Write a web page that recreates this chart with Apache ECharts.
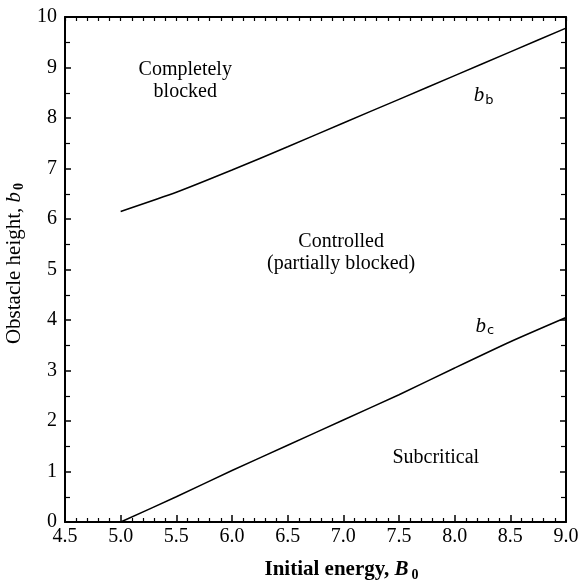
<!DOCTYPE html>
<html><head><meta charset="utf-8">
<script src="https://cdn.jsdelivr.net/npm/echarts@6/dist/echarts.min.js"></script>
<style>html,body{margin:0;padding:0;background:#fff}#c{width:586px;height:582px}</style>
</head><body><div id="c"></div>
<script>
var xB = [5.0, 5.5, 6.0, 6.5, 7.0, 7.5, 8.0, 8.5, 9.0];
var bbValues = [6.15, 6.53, 6.97, 7.43, 7.90, 8.37, 8.84, 9.31, 9.78];
var bcValues = [0.0, 0.50, 1.02, 1.52, 2.02, 2.52, 3.05, 3.57, 4.05];
var annoText = ['{n|Completely}\n{n|blocked}', '{n|Controlled}\n{n|(partially blocked)}', '{i|b}{s|b}', '{i|b}{s|c}', '{n|Subcritical}'];
var annoX = [5.58, 6.98, 8.26, 8.27, 7.83];
var annoY = [8.74, 5.34, 8.44, 3.88, 1.27];

var F = 'Liberation Serif, Times New Roman, serif';
var chart = echarts.init(document.getElementById('c'));
function pairs(xs, ys){ return xs.map(function(x,i){return [x, ys[i]];}); }
var axisBase = {
  axisLine:{show:true, onZero:false, lineStyle:{color:'#000', width:2}},
  splitLine:{show:false}
};
var annoRich = {
  n:{fontFamily:F, fontSize:20, lineHeight:22, color:'#000', opacity:1},
  i:{fontFamily:F, fontSize:21, fontStyle:'italic', color:'#000', opacity:1},
  s:{fontFamily:'DejaVu Sans, sans-serif', fontSize:13, color:'#000', verticalAlign:'bottom', padding:[10,0,0,1]}
};
chart.setOption({
  animation:false,
  grid:{left:65, right:20, top:17, bottom:60, containLabel:false, outerBoundsMode:'none'},
  xAxis:[
    Object.assign({type:'value', min:4.5, max:9.0, interval:0.5, position:'bottom',
      axisTick:{inside:true, length:7, lineStyle:{color:'#000', width:1.5}},
      minorTick:{show:true, splitNumber:5, length:4, lineStyle:{color:'#000', width:1.2}},
      axisLabel:{color:'#000', fontFamily:F, fontSize:20, margin:5, formatter:function(v){return v.toFixed(1);}},
      name:'{n|Initial energy, }{i|B}{s|0}', nameLocation:'middle', nameGap:36,
      nameTextStyle:{padding:[0,0,0,52], rich:{n:{fontFamily:F, fontSize:21, fontWeight:'bold', color:'#000'}, i:{fontFamily:F, fontSize:21, fontStyle:'italic', fontWeight:'bold', color:'#000'}, s:{fontFamily:F, fontSize:14, fontWeight:'bold', color:'#000', verticalAlign:'bottom', padding:[10,0,0,3]}}}
    }, axisBase),
    Object.assign({type:'value', min:4.5, max:9.0, interval:0.5, position:'top',
      axisTick:{inside:true, length:4, lineStyle:{color:'#000', width:1.2}},
      minorTick:{show:true, splitNumber:5, length:4, lineStyle:{color:'#000', width:1.2}},
      axisLabel:{show:false}}, axisBase)
  ],
  yAxis:[
    Object.assign({type:'value', min:0, max:10, interval:1, position:'left',
      axisTick:{inside:true, length:6, lineStyle:{color:'#000', width:1.5}},
      minorTick:{show:true, splitNumber:2, length:5, lineStyle:{color:'#000', width:1.2}},
      axisLabel:{color:'#000', fontFamily:F, fontSize:20, margin:8},
      name:'{n|Obstacle height, }{i|b}{s|0}', nameLocation:'middle', nameGap:36, nameRotate:90,
      nameTextStyle:{padding:[0,0,0,12], rich:{n:{fontFamily:F, fontSize:21, color:'#000'}, i:{fontFamily:F, fontSize:21, fontStyle:'italic', color:'#000'}, s:{fontFamily:F, fontSize:14, fontWeight:'bold', color:'#000', verticalAlign:'bottom', padding:[10,0,0,2]}}}
    }, axisBase),
    Object.assign({type:'value', min:0, max:10, interval:1, position:'right',
      axisTick:{inside:true, length:6, lineStyle:{color:'#000', width:1.5}},
      minorTick:{show:true, splitNumber:2, length:5, lineStyle:{color:'#000', width:1.2}},
      axisLabel:{show:false}}, axisBase)
  ],
  series:[
    {type:'line', data:pairs(xB, bbValues), smooth:0.2, showSymbol:false, lineStyle:{color:'#000', width:1.5}},
    {type:'line', data:pairs(xB, bcValues), smooth:0.2, showSymbol:false, lineStyle:{color:'#000', width:1.5}},
    {type:'scatter', symbolSize:0, silent:true, itemStyle:{color:'#000', opacity:1},
      data:annoX.map(function(x,i){return {value:[x, annoY[i]], label:{show:true, formatter:annoText[i], position:'inside', color:'#000', align:'center', rich:annoRich}};}),
      label:{show:true, position:'inside', color:'#000', fontFamily:F, fontSize:20, lineHeight:22, align:'center', rich:annoRich}
    }
  ]
});
</script></body></html>
